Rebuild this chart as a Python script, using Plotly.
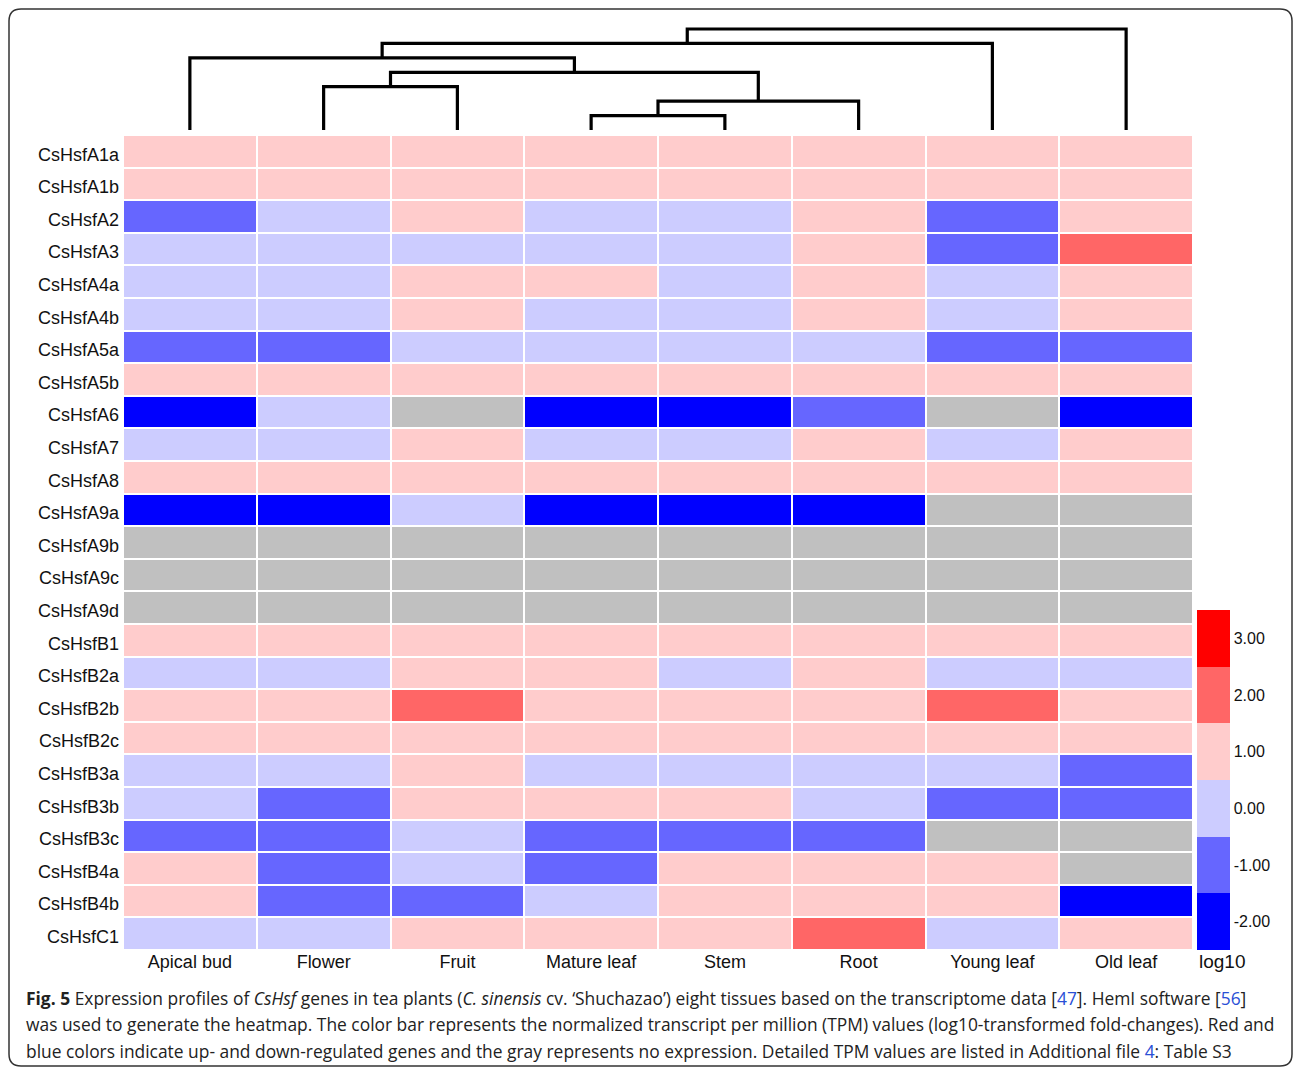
import math
import plotly.graph_objects as go

# ---- data -------------------------------------------------------------
tissues = ["Apical bud", "Flower", "Fruit", "Mature leaf", "Stem", "Root",
           "Young leaf", "Old leaf"]

genes = ["CsHsfA1a", "CsHsfA1b", "CsHsfA2", "CsHsfA3", "CsHsfA4a", "CsHsfA4b",
         "CsHsfA5a", "CsHsfA5b", "CsHsfA6", "CsHsfA7", "CsHsfA8", "CsHsfA9a",
         "CsHsfA9b", "CsHsfA9c", "CsHsfA9d", "CsHsfB1", "CsHsfB2a", "CsHsfB2b",
         "CsHsfB2c", "CsHsfB3a", "CsHsfB3b", "CsHsfB3c", "CsHsfB4a", "CsHsfB4b",
         "CsHsfC1"]

N = None  # no expression

# log10 level per gene (same order as `genes`) for each tissue
apical_bud  = [1, 1, -1, 0, 0, 0, -1, 1, -2, 0, 1, -2, N, N, N, 1, 0, 1, 1, 0, 0, -1, 1, 1, 0]
flower      = [1, 1, 0, 0, 0, 0, -1, 1, 0, 0, 1, -2, N, N, N, 1, 0, 1, 1, 0, -1, -1, -1, -1, 0]
fruit       = [1, 1, 1, 0, 1, 1, 0, 1, N, 1, 1, 0, N, N, N, 1, 1, 2, 1, 1, 1, 0, 0, -1, 1]
mature_leaf = [1, 1, 0, 0, 1, 0, 0, 1, -2, 0, 1, -2, N, N, N, 1, 1, 1, 1, 0, 1, -1, -1, 0, 1]
stem        = [1, 1, 0, 0, 0, 0, 0, 1, -2, 0, 1, -2, N, N, N, 1, 0, 1, 1, 0, 1, -1, 1, 1, 1]
root        = [1, 1, 1, 1, 1, 1, 0, 1, -1, 1, 1, -2, N, N, N, 1, 1, 1, 1, 0, 0, -1, 1, 1, 2]
young_leaf  = [1, 1, -1, -1, 0, 0, -1, 1, N, 0, 1, N, N, N, N, 1, 0, 2, 1, 0, -1, N, 1, 1, 0]
old_leaf    = [1, 1, 1, 2, 1, 1, -1, 1, -2, 1, 1, N, N, N, N, 1, 0, 1, 1, -1, -1, N, N, -2, 1]

columns = [apical_bud, flower, fruit, mature_leaf, stem, root, young_leaf, old_leaf]

# colour-bar levels
bar_levels = [-2, -1, 0, 1, 2, 3]
bar_labels = ["-2.00", "-1.00", "0.00", "1.00", "2.00", "3.00"]

# tissue clustering: leaves 0..7, new clusters numbered from 8
merge_left = [3, 8, 1, 10, 0, 12, 13]
merge_right = [4, 5, 2, 9, 11, 6, 7]
merge_height = [1, 2, 3, 4, 5, 6, 7]

# ---- page geometry ----------------------------------------------------
W, H = 1293, 1069


def fx(px):
    return px / W


def fy(py):
    return 1 - py / H


HM_L, HM_R, HM_T, HM_B = 123, 1193, 135, 950

z = [[col[i] for col in columns] for i in range(len(genes))]
z_main = [[(math.nan if v is None else v) for v in row] for row in z]
z_missing = [[(1 if v is None else math.nan) for v in row] for row in z]

blue, mblue, lblue = "#0000ff", "#6666ff", "#ccccff"
pink, salmon, red = "#ffcccc", "#ff6666", "#ff0000"
grey = "#c0c0c0"
steps = [blue, mblue, lblue, pink, salmon, red]
colorscale = []
for i, c in enumerate(steps):
    colorscale.append([i / 6, c])
    colorscale.append([(i + 1) / 6, c])

fig = go.Figure()

# grey cells for genes without expression
fig.add_trace(go.Heatmap(
    z=z_missing, x=tissues, y=genes,
    colorscale=[[0, grey], [1, grey]], showscale=False,
    xgap=2, ygap=2, hoverinfo="skip",
))

fig.add_trace(go.Heatmap(
    z=z_main, x=tissues, y=genes,
    colorscale=colorscale, zmin=-2.5, zmax=3.5,
    xgap=2, ygap=2,
    colorbar=dict(
        thicknessmode="pixels", thickness=33,
        lenmode="pixels", len=HM_B - 610,
        x=fx(1197), xanchor="left", y=fy(HM_B), yanchor="bottom",
        xpad=0, ypad=0, outlinewidth=0,
        tickvals=bar_levels, ticktext=bar_labels, ticks="",
        tickfont=dict(family="Liberation Sans, Arial", size=16, color="#111"),
    ),
))

# ---- dendrogram over the tissues --------------------------------------
pos = {i: float(i) for i in range(len(tissues))}
hgt = {i: 0.0 for i in range(len(tissues))}
for k, (a, b, h) in enumerate(zip(merge_left, merge_right, merge_height)):
    node = len(tissues) + k
    fig.add_trace(go.Scatter(
        x=[pos[a], pos[a], pos[b], pos[b]],
        y=[hgt[a], h, h, hgt[b]],
        mode="lines", line=dict(color="black", width=3.2),
        xaxis="x2", yaxis="y2", showlegend=False, hoverinfo="skip",
    ))
    pos[node] = (pos[a] + pos[b]) / 2
    hgt[node] = h

unit = 14.43  # pixels per merge-height unit
dend_top, dend_bot = 20, 133

font_lbl = dict(family="Liberation Sans, Arial", size=18, color="#111")

fig.update_layout(
    width=W, height=H,
    margin=dict(l=0, r=0, t=0, b=0),
    paper_bgcolor="white", plot_bgcolor="white",
    showlegend=False,
    xaxis=dict(domain=[fx(HM_L), fx(HM_R)], anchor="y", type="category",
               categoryorder="array", categoryarray=tissues,
               ticks="", showgrid=False, zeroline=False, showline=False,
               tickfont=font_lbl, ticklabelstandoff=-1),
    yaxis=dict(domain=[fy(HM_B), fy(HM_T)], anchor="x", type="category",
               categoryorder="array", categoryarray=genes, autorange="reversed",
               ticks="", showgrid=False, zeroline=False, showline=False,
               tickfont=font_lbl, ticklabelstandoff=3, ticklabelshift=-3),
    xaxis2=dict(domain=[fx(HM_L), fx(HM_R)], anchor="y2", range=[-0.5, 7.5],
                visible=False),
    yaxis2=dict(domain=[fy(dend_bot), fy(dend_top)], anchor="x2",
                range=[-(dend_bot - 130) / unit, (130 - dend_top) / unit],
                visible=False),
)

# colour-bar title
fig.add_annotation(x=fx(1222), y=fy(961), xref="paper", yref="paper",
                   text="log10", showarrow=False,
                   font=dict(family="Liberation Sans, Arial", size=19, color="#111"),
                   xanchor="center", yanchor="middle")

# ---- figure caption ---------------------------------------------------
link = "color:#2a4fd6"
cap_font = dict(family="Open Sans", size=17.4, color="#222")
caption = [
    "<b>Fig. 5</b> Expression profiles of <i>CsHsf</i> genes in tea plants "
    "(<i>C. sinensis</i> cv. ‘Shuchazao’) eight tissues based on the transcriptome data "
    f"[<span style='{link}'>47</span>]. HemI software [<span style='{link}'>56</span>]",
    "was used to generate the heatmap. The color bar represents the normalized transcript "
    "per million (TPM) values (log10-transformed fold-changes). Red and",
    "blue colors indicate up- and down-regulated genes and the gray represents no expression. "
    f"Detailed TPM values are listed in Additional file <span style='{link}'>4</span>: Table S3",
]
for line, py in zip(caption, [998, 1024, 1051]):
    fig.add_annotation(x=fx(24), y=fy(py), xref="paper", yref="paper",
                       text=line, showarrow=False, font=cap_font,
                       xanchor="left", yanchor="middle", align="left")

# ---- rounded frame ----------------------------------------------------
L, T, R, B, r = 9, 9, 1292, 1066, 12
path = (f"M {fx(L)},{fy(T + r)} Q {fx(L)},{fy(T)} {fx(L + r)},{fy(T)} "
        f"L {fx(R - r)},{fy(T)} Q {fx(R)},{fy(T)} {fx(R)},{fy(T + r)} "
        f"L {fx(R)},{fy(B - r)} Q {fx(R)},{fy(B)} {fx(R - r)},{fy(B)} "
        f"L {fx(L + r)},{fy(B)} Q {fx(L)},{fy(B)} {fx(L)},{fy(B - r)} Z")
fig.add_shape(type="path", path=path, xref="paper", yref="paper",
              line=dict(color="#333", width=1.5), layer="above")

fig.write_html("out.html")
